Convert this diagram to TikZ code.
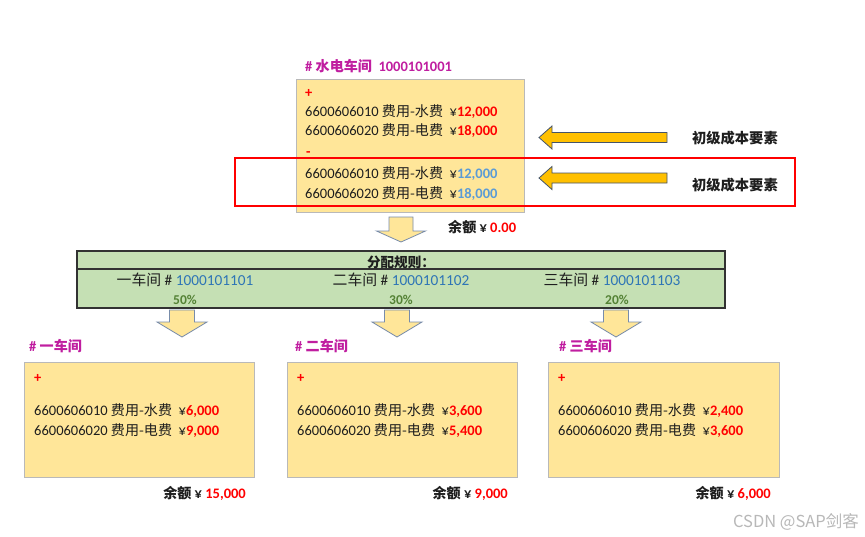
\documentclass[tikz,border=0pt]{standalone}
\usepackage{fontspec}
\setmainfont{Carlito}
\newfontfamily\zhf[Scale=0.97]{Noto Sans CJK SC}
\newfontfamily\wmf{Noto Sans CJK SC}
\newcommand\zh[1]{{\zhf #1}}
\definecolor{txtc}{RGB}{30,30,30}
\definecolor{magc}{RGB}{192,30,160}
\definecolor{redc}{RGB}{255,0,0}
\definecolor{blue1}{RGB}{91,155,213}
\definecolor{blue2}{RGB}{46,117,182}
\definecolor{grnt}{RGB}{84,130,53}
\definecolor{yfill}{RGB}{255,230,153}
\definecolor{ydraw}{RGB}{185,185,185}
\definecolor{gfill}{RGB}{197,224,180}
\definecolor{gdraw}{RGB}{50,50,50}
\definecolor{ofill}{RGB}{255,192,0}
\definecolor{odraw}{RGB}{68,84,106}
\definecolor{adraw}{RGB}{120,140,170}
\newcommand\acct[3]{#1 \zh{费用-#2}\ \ ¥#3}
\newcommand\amr[1]{\textbf{\textcolor{redc}{#1}}}
\newcommand\amb[1]{\textbf{\textcolor{blue1}{#1}}}
\newcommand\bal[1]{\textbf{\zh{余额} ¥ \textcolor{redc}{#1}}}
\newcommand\dnarr[6]{% cx, top, head, tip, shaft half, head half
  \draw[darr] ({#1-#5},#2) -- ({#1+#5},#2) -- ({#1+#5},#3) -- ({#1+#6},#3) -- (#1,#4) -- ({#1-#6},#3) -- ({#1-#5},#3) -- cycle;}
\newcommand\lfarr[1]{% center y
  \draw[larr] (667,{#1-5}) -- (552,{#1-5}) -- (552,{#1-11.5}) -- (539,#1) -- (552,{#1+11.5}) -- (552,{#1+5}) -- (667,{#1+5}) -- cycle;}
\tikzset{
  txt/.style={anchor=base west, inner sep=0pt, font=\fontsize{14.5}{16}\selectfont, text=txtc},
  ttl/.style={txt, font=\fontsize{14.5}{16}\selectfont\bfseries, text=magc},
  sign/.style={txt, font=\fontsize{14.5}{16}\selectfont\bfseries, text=redc},
  ybox/.style={draw=ydraw, fill=yfill, line width=0.8pt, inner sep=0pt},
  gbox/.style={draw=gdraw, fill=gfill, line width=1.1pt, inner sep=0pt},
  redbox/.style={draw=redc, line width=1.3pt, inner sep=0pt},
  darr/.style={draw=adraw, fill=yfill, line width=0.8pt, line join=miter},
  larr/.style={draw=odraw, fill=ofill, line width=0.8pt, line join=miter},
  pct/.style={anchor=base, inner sep=0pt, font=\fontsize{13.5}{15}\selectfont\bfseries, text=grnt},
  row/.style={anchor=base, inner sep=0pt, font=\fontsize{15.3}{17}\selectfont, text=txtc},
}
\begin{document}
\begin{tikzpicture}[x=1pt,y=-1pt]
\useasboundingbox[fill=white] (0,0) rectangle (865,536);
% main box
\node[ybox, minimum width=228pt, minimum height=133pt] (main) at (410,145.5) {};
\node[ttl] (t0) at (305,71) {\# \zh{水电车间}\ \ 1000101001};
\node[sign] (p0) at (305,97.5) {+};
\node[txt] (m1) at (305,116.5) {\acct{6600606010}{水费}{\amr{12,000}}};
\node[txt] (m2) at (305,135.5) {\acct{6600606020}{电费}{\amr{18,000}}};
\node[sign] (n0) at (306,156.5) {-};
\node[txt] (m3) at (305,178.5) {\acct{6600606010}{水费}{\amb{12,000}}};
\node[txt] (m4) at (305,198.5) {\acct{6600606020}{电费}{\amb{18,000}}};
\node[redbox, minimum width=560pt, minimum height=48pt] (hl) at (515,182) {};
% left arrows and labels
\lfarr{137.5}
\lfarr{178}
\node[txt, font=\fontsize{14.7}{16}\selectfont\bfseries] (lab1) at (692,143.5) {\zh{初级成本要素}};
\node[txt, font=\fontsize{14.7}{16}\selectfont\bfseries] (lab2) at (692,190.5) {\zh{初级成本要素}};
% top down arrow and balance
\dnarr{401}{217}{231}{242}{12}{24.5}
\node[txt] (bal0) at (448,232.5) {\bal{0.00}};
% rule box
\node[gbox, minimum width=648pt, minimum height=57pt] (rule) at (401,279.5) {};
\draw[gdraw, line width=1.1pt] (rule.west |- 0,269) -- (rule.east |- 0,269);
\node[anchor=base, inner sep=0pt, font=\fontsize{14}{15}\selectfont\bfseries, text=txtc] (rt) at (401,267) {\zh{分配规则：}};
\node[row] (r1) at (185,285.5) {\zh{一车间} \# \textcolor{blue2}{1000101101}};
\node[row] (r2) at (401,285.5) {\zh{二车间} \# \textcolor{blue2}{1000101102}};
\node[row] (r3) at (612,285.5) {\zh{三车间} \# \textcolor{blue2}{1000101103}};
\node[pct] (q1) at (185,304.5) {50\%};
\node[pct] (q2) at (401,304.5) {30\%};
\node[pct] (q3) at (617,304.5) {20\%};
% down arrows
\dnarr{182}{310}{322}{337}{12.5}{25}
\dnarr{397}{310}{322}{337}{12.5}{25}
\dnarr{616}{310}{322}{337}{12.5}{25}
% workshop boxes
\node[ybox, minimum width=230pt, minimum height=115pt] (b1) at (139,419.5) {};
\node[ybox, minimum width=230pt, minimum height=115pt] (b2) at (402,419.5) {};
\node[ybox, minimum width=231pt, minimum height=115pt] (b3) at (663.5,419.5) {};
\node[ttl] (t1) at (29,351) {\# \zh{一车间}};
\node[ttl] (t2) at (295,351) {\# \zh{二车间}};
\node[ttl] (t3) at (559,351) {\# \zh{三车间}};
\node[sign] (s1) at (34,382) {+};
\node[sign] (s2) at (297,382) {+};
\node[sign] (s3) at (558,382) {+};
\node[txt] (a1) at (34,415.5) {\acct{6600606010}{水费}{\amr{6,000}}};
\node[txt] (a2) at (34,435.5) {\acct{6600606020}{电费}{\amr{9,000}}};
\node[txt] (c1) at (297,415.5) {\acct{6600606010}{水费}{\amr{3,600}}};
\node[txt] (c2) at (297,435.5) {\acct{6600606020}{电费}{\amr{5,400}}};
\node[txt] (d1) at (558,415.5) {\acct{6600606010}{水费}{\amr{2,400}}};
\node[txt] (d2) at (558,435.5) {\acct{6600606020}{电费}{\amr{3,600}}};
\node[txt, anchor=base east] (bal1) at (246,498) {\bal{15,000}};
\node[txt, anchor=base east] (bal2) at (508,498) {\bal{9,000}};
\node[txt, anchor=base east] (bal3) at (771,498) {\bal{6,000}};
% watermark
\node[anchor=base, inner sep=0pt, font=\wmf\fontsize{16.5}{18}\selectfont, text=black!28] (wm) at (796,527) {CSDN @SAP剑客};
\end{tikzpicture}
\end{document}
